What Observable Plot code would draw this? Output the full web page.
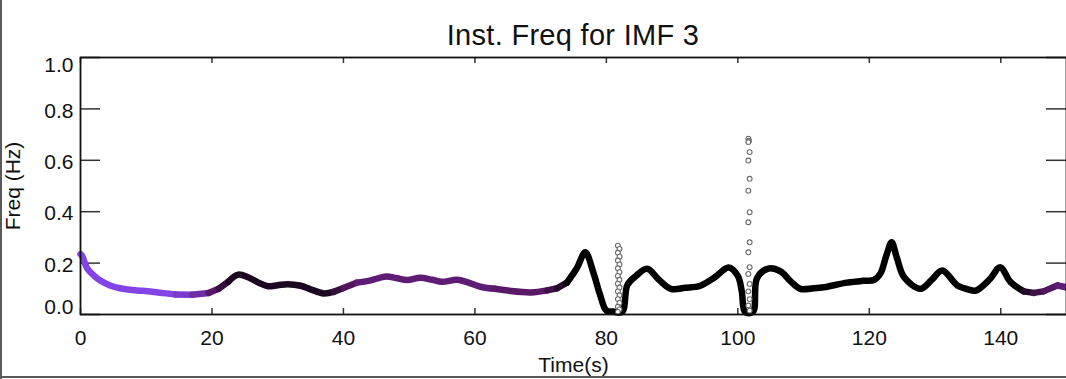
<!DOCTYPE html>
<html>
<head>
<meta charset="utf-8">
<script src="https://cdn.jsdelivr.net/npm/d3@7"></script>
<script src="https://cdn.jsdelivr.net/npm/@observablehq/plot@0.6"></script>
<style>
  html, body { margin: 0; padding: 0; background: #fff; }
  #wrap { position: relative; width: 1066px; height: 379px; overflow: hidden; background: #fff;
          font-family: "Liberation Sans", Arial, Helvetica, sans-serif; }
  #title { position: absolute; left: 80px; width: 986px; top: 21px; text-align: center;
           font-size: 29px; line-height: 29px; color: #111; letter-spacing: 0.3px; }
  #chart { position: absolute; left: 0; top: 0; }
  .bl { position: absolute; left: 0; top: 0; width: 2px; height: 379px; background: #5a5a5a; }
  .bb { position: absolute; left: 0; top: 376px; width: 1066px; height: 2px; background: #5a5a5a; }
</style>
</head>
<body>
<div id="wrap">
  <div id="chart"></div>
  <div id="title">Inst. Freq for IMF 3</div>
  <div class="bl"></div>
  <div class="bb"></div>
</div>
<script>
// Main instantaneous-frequency curve (time in s, frequency in Hz)
const times = [0.0, 0.3, 1.0, 2.0, 3.0, 4.5, 6.0, 7.5, 9.5, 12.0, 14.5, 17.0, 19.5, 21.0, 22.5, 24.0, 25.5, 27.0, 28.5, 30.0,
  31.5, 33.5, 35.0, 37.0, 38.5, 40.0, 42.0, 44.0, 46.5, 48.0, 49.7, 51.7, 53.5, 55.0, 57.3, 59.0, 61.0, 63.0, 65.0, 68.5,
  71.0, 72.5, 74.0, 75.5, 76.8, 78.0, 79.0, 80.0, 81.0, 82.4, 83.2, 84.5, 86.2, 88.0, 89.8, 92.0, 94.3, 96.5, 98.6, 100.0,
  100.6, 101.1, 102.3, 102.9, 104.5, 106.5, 108.0, 109.5, 111.5, 113.1, 116.6, 119.0, 120.7, 121.7, 122.6, 123.4, 124.2, 125.3, 127.8, 129.5,
  131.1, 133.4, 135.0, 136.2, 138.4, 139.9, 141.5, 143.5, 145.0, 146.5, 148.6, 150.0];
const freqs = [0.235, 0.225, 0.180, 0.152, 0.132, 0.113, 0.102, 0.096, 0.092, 0.085, 0.078, 0.077, 0.084, 0.100, 0.128, 0.155, 0.145, 0.125, 0.110, 0.114,
  0.118, 0.112, 0.098, 0.082, 0.088, 0.103, 0.124, 0.132, 0.148, 0.142, 0.134, 0.143, 0.135, 0.127, 0.135, 0.124, 0.107, 0.100, 0.093, 0.086,
  0.094, 0.102, 0.124, 0.180, 0.242, 0.165, 0.080, 0.015, 0.012, 0.010, 0.115, 0.150, 0.178, 0.135, 0.100, 0.104, 0.112, 0.145, 0.183, 0.150,
  0.090, 0.010, 0.010, 0.140, 0.178, 0.168, 0.130, 0.100, 0.102, 0.106, 0.124, 0.131, 0.134, 0.160, 0.230, 0.281, 0.220, 0.145, 0.100, 0.135,
  0.171, 0.113, 0.098, 0.093, 0.139, 0.184, 0.126, 0.090, 0.084, 0.090, 0.113, 0.106];
// relative amplitude used for the colour of each point (0 = strong/black, 1 = weak/violet)
const tones = [1, 1, 1, 1, 1, 1, 1, 1, 1, 1, 0.9, 0.75, 0.5, 0.3, 0.15, 0.15, 0.15, 0.15, 0.15, 0.15,
  0.15, 0.15, 0.15, 0.15, 0.3, 0.45, 0.55, 0.55, 0.55, 0.55, 0.55, 0.55, 0.55, 0.55, 0.55, 0.55, 0.55, 0.5, 0.5, 0.5,
  0.35, 0.2, 0, 0, 0, 0, 0, 0, 0, 0, 0, 0, 0, 0, 0, 0, 0, 0, 0, 0,
  0, 0, 0, 0, 0, 0, 0, 0, 0, 0, 0, 0, 0, 0, 0, 0, 0, 0, 0, 0,
  0, 0, 0, 0, 0, 0, 0, 0.2, 0.35, 0.45, 0.55, 0.6];

// Spurious spikes shown as open circles
const spikeTimes = [81.75, 82.0, 81.75, 82.0, 81.75, 82.0, 81.75, 82.0, 81.75, 82.0, 81.75, 82.0, 81.75, 82.0, 81.75, 82.0, 81.75, 82.0, 81.75,
  101.6, 101.7, 101.6, 101.8, 101.6, 101.8, 101.6, 101.8, 101.6, 101.8, 101.6, 101.8, 101.6, 101.8, 101.6, 101.8, 101.6, 101.8];
const spikeFreqs = [0.268, 0.255, 0.240, 0.225, 0.210, 0.195, 0.180, 0.165, 0.150, 0.135, 0.120, 0.105, 0.090, 0.075, 0.060, 0.045, 0.030, 0.020, 0.010,
  0.684, 0.676, 0.671, 0.632, 0.599, 0.528, 0.482, 0.398, 0.359, 0.281, 0.242, 0.184, 0.158, 0.119, 0.090, 0.060, 0.035, 0.015];

const xTicks = [0, 20, 40, 60, 80, 100, 120, 140];
const yTicksInner = [0.2, 0.4, 0.6, 0.8];
const yTickTop = [1.0];
const yTickBottom = [0.0];
const yTicksAll = [0.0, 0.2, 0.4, 0.6, 0.8, 1.0];

const curve = times.map((t, i) => ({t, f: freqs[i], tone: tones[i]}));
const spikes = spikeTimes.map((t, i) => ({t, f: spikeFreqs[i]}));

const fmt = d3.format(".1f");
const axisFont = 21;

const plot = Plot.plot({
  width: 1066,
  height: 379,
  marginTop: 57,
  marginBottom: 65,
  marginLeft: 80,
  marginRight: 0,
  style: {fontFamily: '"Liberation Sans", Arial, Helvetica, sans-serif', background: "transparent", color: "#111"},
  x: {domain: [0, 150]},
  y: {domain: [0, 1]},
  color: {type: "linear", domain: [0, 0.5, 1], range: ["#000000", "#5a1868", "#8244e6"]},
  marks: [
    // inward ticks
    Plot.tickY(yTicksAll, {y: d => d, insetRight: 966, stroke: "#333", strokeWidth: 1.5}),
    Plot.tickY(yTicksAll, {y: d => d, insetLeft: 966, stroke: "#333", strokeWidth: 1.5}),
    Plot.tickX(xTicks, {x: d => d, insetTop: 251, stroke: "#333", strokeWidth: 1.5}),
    Plot.tickX(xTicks, {x: d => d, insetBottom: 251, stroke: "#333", strokeWidth: 1.5}),
    // tick labels and axis titles
    Plot.axisY({ticks: yTicksInner, tickFormat: fmt, tickSize: 0, tickPadding: 7, dy: 2, fontSize: axisFont,
      label: "Freq (Hz)", labelAnchor: "center", labelOffset: 75, labelArrow: "none"}),
    Plot.axisY({ticks: yTickTop, tickFormat: fmt, tickSize: 0, tickPadding: 7, dy: 8, fontSize: axisFont, label: null}),
    Plot.axisY({ticks: yTickBottom, tickFormat: fmt, tickSize: 0, tickPadding: 7, dy: -7, fontSize: axisFont, label: null}),
    Plot.axisX({ticks: xTicks, tickFormat: d3.format("d"), tickSize: 0, tickPadding: 16, fontSize: axisFont,
      label: "Time(s)", labelAnchor: "center", labelOffset: 57, labelArrow: "none"}),
    // data
    Plot.line(curve, {x: "t", y: "f", z: null, stroke: "tone", strokeWidth: 6.5, curve: "catmull-rom",
      strokeLinejoin: "round", strokeLinecap: "round"}),
    Plot.dot(spikes, {x: "t", y: "f", r: 2.4, stroke: "#6a6a6a", fill: "white", strokeWidth: 1.1}),
    Plot.frame({stroke: "#111", strokeWidth: 1.8})
  ]
});
document.getElementById("chart").appendChild(plot);
</script>
</body>
</html>
